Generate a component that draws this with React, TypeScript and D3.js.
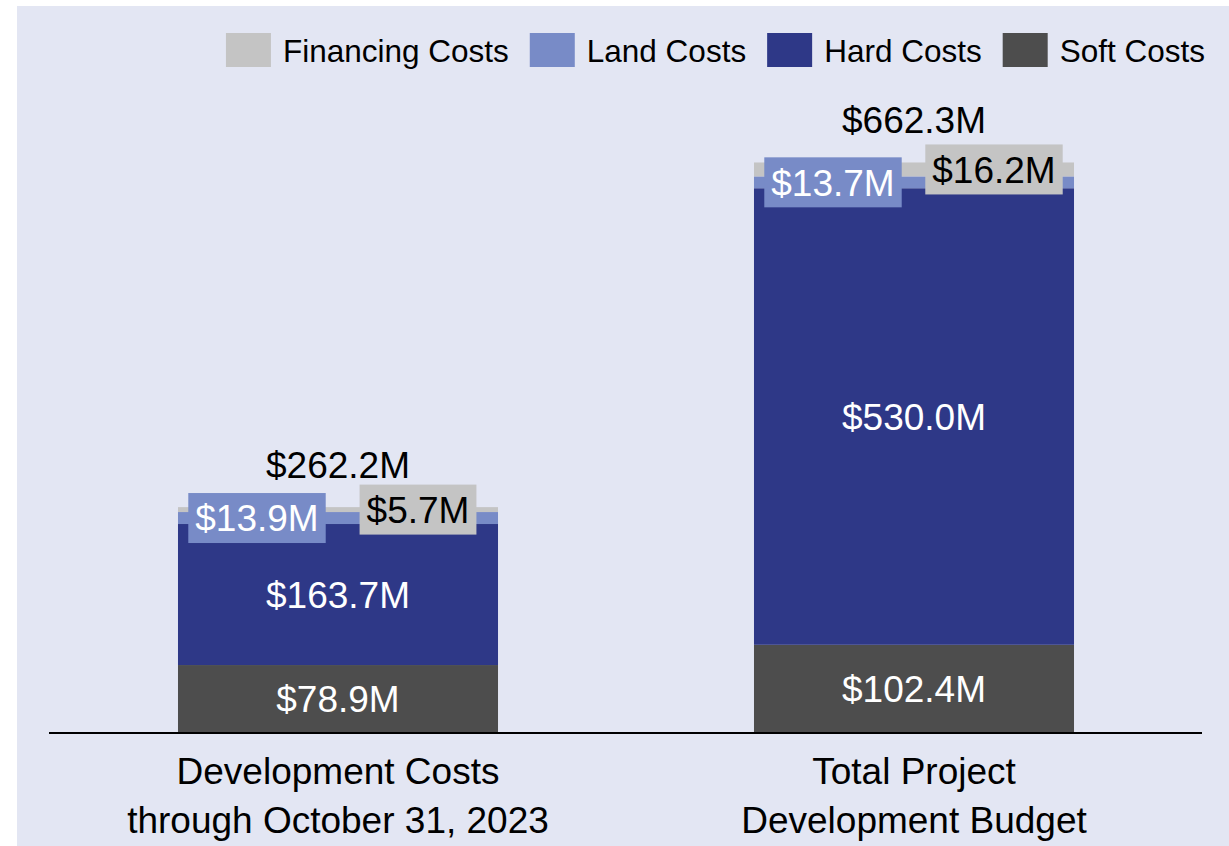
import React, { useEffect, useRef } from "react";
import * as d3 from "d3";

// categories (two lines each)
const categories = ["dev", "budget"];
const categoryLines = [
  ["Development Costs", "through October 31, 2023"],
  ["Total Project", "Development Budget"],
];

// series values, bottom to top, in $M
const softCosts = [78.9, 102.4];
const hardCosts = [163.7, 530.0];
const landCosts = [13.9, 13.7];
const financingCosts = [5.7, 16.2];

const seriesNames = ["Soft Costs", "Hard Costs", "Land Costs", "Financing Costs"];
const seriesColors = ["#4d4d4d", "#2e3887", "#788bc7", "#c4c4c4"];
const legendOrder = ["Financing Costs", "Land Costs", "Hard Costs", "Soft Costs"];

const fmt = (v: number) => "$" + v.toFixed(1) + "M";

const App = () => {
  const svgRef = useRef<SVGSVGElement>(null);

  useEffect(() => {
    const svg = d3.select(svgRef.current);
    svg.selectAll("*").remove();

    const W = 1229,
      H = 846;
    const font = "'Liberation Sans', Arial, sans-serif";
    const fs = 37;

    svg
      .append("rect")
      .attr("x", 17)
      .attr("y", 6)
      .attr("width", W - 17)
      .attr("height", H - 6)
      .attr("fill", "#e3e6f3");

    const rows = categories.map((c, i) => ({
      cat: c,
      "Soft Costs": softCosts[i],
      "Hard Costs": hardCosts[i],
      "Land Costs": landCosts[i],
      "Financing Costs": financingCosts[i],
    }));

    const x = d3
      .scaleBand()
      .domain(categories)
      .range([50, 1202])
      .paddingInner(0.4444)
      .paddingOuter(0.2222);
    const y = d3.scaleLinear().domain([0, 700]).range([733, 130]);
    const color = d3.scaleOrdinal<string>().domain(seriesNames).range(seriesColors);

    const stack = d3.stack<any>().keys(seriesNames);
    const series = stack(rows);

    const g = svg.append("g");

    series.forEach((s) => {
      g.selectAll(null)
        .data(s)
        .enter()
        .append("rect")
        .attr("x", (d: any) => x(d.data.cat)!)
        .attr("width", x.bandwidth())
        .attr("y", (d) => y(d[1]))
        .attr("height", (d) => y(d[0]) - y(d[1]))
        .attr("fill", color(s.key));
    });

    // axis baseline
    svg
      .append("line")
      .attr("x1", 49)
      .attr("x2", 1202)
      .attr("y1", y(0))
      .attr("y2", y(0))
      .attr("stroke", "#000")
      .attr("stroke-width", 2);

    // labels inside soft / hard
    ["Soft Costs", "Hard Costs"].forEach((key) => {
      const s = series.find((e) => e.key === key)!;
      g.selectAll(null)
        .data(s)
        .enter()
        .append("text")
        .attr("x", (d: any) => x(d.data.cat)! + x.bandwidth() / 2)
        .attr("y", (d) => (y(d[0]) + y(d[1])) / 2)
        .attr("dy", "0.36em")
        .attr("text-anchor", "middle")
        .attr("font-family", font)
        .attr("font-size", fs)
        .attr("fill", "#fff")
        .text((d: any) => fmt(d.data[key]));
    });

    // boxed labels for land (left) and financing (right)
    const boxed = [
      { key: "Land Costs", dx: -81, fill: "#fff" },
      { key: "Financing Costs", dx: 80, fill: "#000" },
    ];
    boxed.forEach((b) => {
      const s = series.find((e) => e.key === b.key)!;
      s.forEach((d: any) => {
        const cx = x(d.data.cat)! + x.bandwidth() / 2 + b.dx;
        const cy = (y(d[0]) + y(d[1])) / 2;
        const lg = g.append("g");
        const t = lg
          .append("text")
          .attr("x", cx)
          .attr("y", cy)
          .attr("dy", "0.36em")
          .attr("text-anchor", "middle")
          .attr("font-family", font)
          .attr("font-size", fs)
          .attr("fill", b.fill)
          .text(fmt(d.data[b.key]));
        const w = (t.node() as SVGTextElement).getComputedTextLength() + 14;
        lg.insert("rect", "text")
          .attr("x", cx - w / 2)
          .attr("y", cy - 25)
          .attr("width", w)
          .attr("height", 50)
          .attr("fill", color(b.key));
      });
    });

    // totals above bars
    const top = series[series.length - 1];
    g.selectAll(null)
      .data(top)
      .enter()
      .append("text")
      .attr("x", (d: any) => x(d.data.cat)! + x.bandwidth() / 2)
      .attr("y", (d) => y(d[1]) - 29)
      .attr("text-anchor", "middle")
      .attr("font-family", font)
      .attr("font-size", fs)
      .attr("fill", "#000")
      .text((d) => fmt(d[1]));

    // category labels
    categories.forEach((c, i) => {
      const t = svg
        .append("text")
        .attr("text-anchor", "middle")
        .attr("font-family", font)
        .attr("font-size", fs)
        .attr("fill", "#000");
      categoryLines[i].forEach((line, j) => {
        t.append("tspan")
          .attr("x", x(c)! + x.bandwidth() / 2)
          .attr("y", 784 + j * 49)
          .text(line);
      });
    });

    // legend, right aligned
    const legend = svg.append("g");
    const items = legendOrder.map((name) => {
      const it = legend.append("g");
      it.append("rect")
        .attr("width", 45)
        .attr("height", 34)
        .attr("y", 33)
        .attr("fill", color(name));
      const t = it
        .append("text")
        .attr("x", 57)
        .attr("y", 62)
        .attr("font-family", font)
        .attr("font-size", 31.5)
        .attr("fill", "#000")
        .text(name);
      return { it, w: 57 + (t.node() as SVGTextElement).getComputedTextLength() };
    });
    let right = 1205;
    for (let i = items.length - 1; i >= 0; i--) {
      const left = right - items[i].w;
      items[i].it.attr("transform", `translate(${left},0)`);
      right = left - 21;
    }
  }, []);

  return (
    <svg
      ref={svgRef}
      width={1229}
      height={846}
      style={{ position: "absolute", left: 0, top: 0, display: "block" }}
    />
  );
};

export default App;
